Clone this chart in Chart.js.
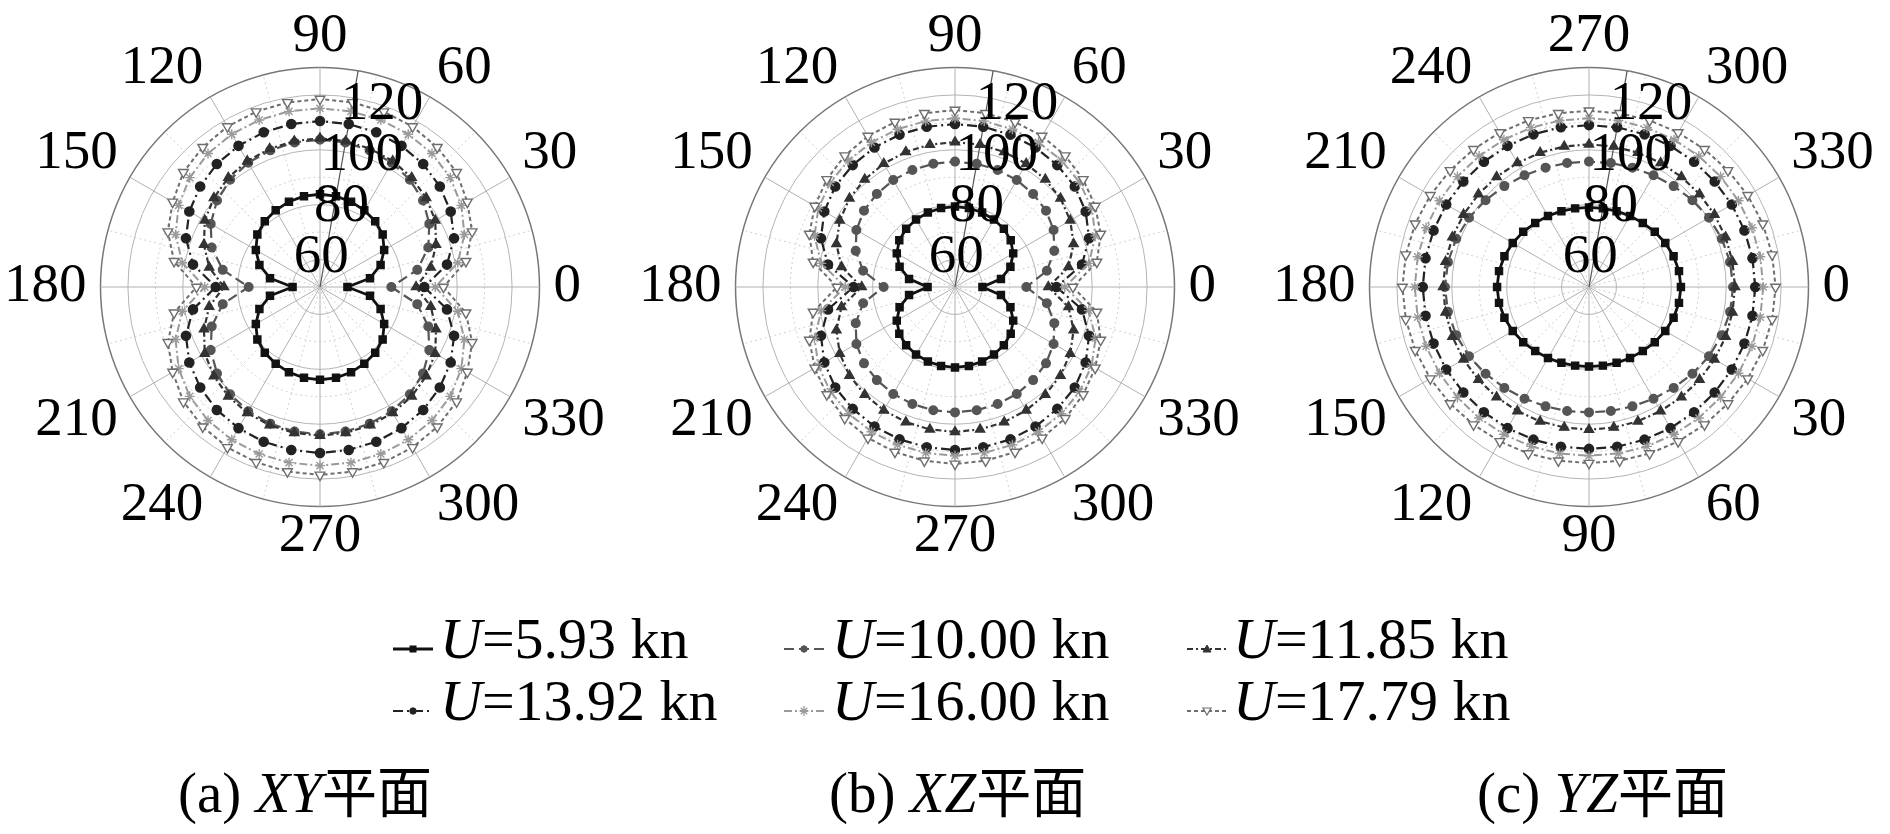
<!DOCTYPE html>
<html>
<head>
<meta charset="utf-8">
<script src="https://cdn.jsdelivr.net/npm/chart.js@4.4.0/dist/chart.umd.min.js"></script>
<style>
    html, body { margin: 0; padding: 0; background: #fff; }
    body { width: 1890px; height: 834px; position: relative; overflow: hidden; font-family: "Liberation Serif", "DejaVu Serif", serif; color: #000; }
    .plot { position: absolute; left: 0; top: 0; width: 634px; height: 634px; }
    .sample { position: absolute; width: 40px; height: 20px; }
    .ltext { position: absolute; font-size: 58px; line-height: 58px; white-space: nowrap; }
    .caption { position: absolute; font-size: 57px; line-height: 57px; white-space: nowrap; }
    .cjk { font-family: "Noto Sans CJK SC"; font-size: 55px; }
</style>
</head>
<body>
<div class="plot" id="plotA"><canvas id="chartA"></canvas></div>
<div class="plot" id="plotB"><canvas id="chartB"></canvas></div>
<div class="plot" id="plotC"><canvas id="chartC"></canvas></div>
<div id="legend"></div>
<div class="caption" style="left:178px; top:760px;">(a) <i>XY</i><span class="cjk">平面</span></div>
<div class="caption" style="left:829px; top:760px;">(b) <i>XZ</i><span class="cjk">平面</span></div>
<div class="caption" style="left:1477px; top:760px;">(c) <i>YZ</i><span class="cjk">平面</span></div>

<script>
const serif = '"Liberation Serif", "DejaVu Serif", serif';

// series names (speed U)
const speeds = ['5.93', '10.00', '11.85', '13.92', '16.00', '17.79'];

// radial tick labels and angle ticks
const radialTicks = [60, 80, 100, 120];
const angleStep = 5;          // label slots every 5 deg, data every 10 deg
const angleTickEvery = 30;

// values at 0,10,20,...,350 deg -- XY plane
const xy593  = [60, 68.5, 73.5, 77, 79.8, 81.3, 82.3, 83.1, 83.6, 83.8, 83.6, 83.1, 82.3, 81.3, 79.8, 77, 73.5, 68.5, 60, 68.5, 73.5, 77, 79.8, 81.3, 82.3, 83.1, 83.6, 83.8, 83.6, 83.1, 82.3, 81.3, 79.8, 77, 73.5, 68.5];
const xy1000 = [76, 86, 92, 96, 99, 101, 102.3, 103, 103.5, 103.7, 103.5, 103, 102.3, 101, 99, 96, 92, 86, 76, 86, 92, 96, 99, 101, 102.3, 103, 103.5, 103.7, 103.5, 103, 102.3, 101, 99, 96, 92, 86];
const xy1185 = [85, 91, 95, 98.5, 100.5, 102, 103, 103.6, 104, 104.2, 104, 103.6, 103, 102, 100.5, 98.5, 95, 91, 85, 91, 95, 98.5, 100.5, 102, 103, 103.6, 104, 104.2, 104, 103.6, 103, 102, 100.5, 98.5, 95, 91];
const xy1392 = [88, 97, 102, 105, 107, 108.5, 109.4, 110, 110.3, 110.5, 110.3, 110, 109.4, 108.5, 107, 105, 102, 97, 88, 97, 102, 105, 107, 108.5, 109.4, 110, 110.3, 110.5, 110.3, 110, 109.4, 108.5, 107, 105, 102, 97];
const xy1600 = [92, 101, 106, 109.5, 112, 113.5, 114.3, 114.8, 115, 115.1, 115, 114.8, 114.3, 113.5, 112, 109.5, 106, 101, 92, 101, 106, 109.5, 112, 113.5, 114.3, 114.8, 115, 115.1, 115, 114.8, 114.3, 113.5, 112, 109.5, 106, 101];
const xy1779 = [95, 104, 109, 112, 115, 116.5, 117.5, 118, 118.3, 118.5, 118.3, 118, 117.5, 116.5, 115, 112, 109, 104, 95, 104, 109, 112, 115, 116.5, 117.5, 118, 118.3, 118.5, 118.3, 118, 117.5, 116.5, 115, 112, 109, 104];

// XZ plane
const xz593  = [60, 67, 71.5, 74.5, 76.5, 77.7, 78.4, 78.9, 79.2, 79.3, 79.2, 78.9, 78.4, 77.7, 76.5, 74.5, 71.5, 67, 60, 67, 71.5, 74.5, 76.5, 77.7, 78.4, 78.9, 79.2, 79.3, 79.2, 78.9, 78.4, 77.7, 76.5, 74.5, 71.5, 67];
const xz1000 = [76, 84, 88.5, 91.5, 93.3, 94.3, 95, 95.4, 95.6, 95.7, 95.6, 95.4, 95, 94.3, 93.3, 91.5, 88.5, 84, 76, 84, 88.5, 91.5, 93.3, 94.3, 95, 95.4, 95.6, 95.7, 95.6, 95.4, 95, 94.3, 93.3, 91.5, 88.5, 84];
const xz1185 = [84, 92, 96, 98.5, 100.2, 101.2, 101.9, 102.4, 102.7, 102.8, 102.7, 102.4, 101.9, 101.2, 100.2, 98.5, 96, 92, 84, 92, 96, 98.5, 100.2, 101.2, 101.9, 102.4, 102.7, 102.8, 102.7, 102.4, 101.9, 101.2, 100.2, 98.5, 96, 92];
const xz1392 = [87, 97, 102, 105, 107, 108, 108.7, 109.1, 109.3, 109.4, 109.3, 109.1, 108.7, 108, 107, 105, 102, 97, 87, 97, 102, 105, 107, 108, 108.7, 109.1, 109.3, 109.4, 109.3, 109.1, 108.7, 108, 107, 105, 102, 97];
const xz1600 = [90, 99.5, 104.5, 107.5, 109.3, 110.3, 110.9, 111.2, 111.4, 111.5, 111.4, 111.2, 110.9, 110.3, 109.3, 107.5, 104.5, 99.5, 90, 99.5, 104.5, 107.5, 109.3, 110.3, 110.9, 111.2, 111.4, 111.5, 111.4, 111.2, 110.9, 110.3, 109.3, 107.5, 104.5, 99.5];
const xz1779 = [93, 102.5, 106.5, 109, 111, 112.5, 113.5, 114, 114.3, 114.5, 114.3, 114, 113.5, 112.5, 111, 109, 106.5, 102.5, 93, 102.5, 106.5, 109, 111, 112.5, 113.5, 114, 114.3, 114.5, 114.3, 114, 113.5, 112.5, 111, 109, 106.5, 102.5];

// YZ plane
const yz593  = [83.5, 83.3, 82.8, 82.1, 81.3, 80.5, 79.9, 79.4, 79.1, 79, 79.1, 79.4, 79.9, 80.5, 81.3, 82.1, 82.8, 83.3, 83.5, 83.3, 82.8, 82.1, 81.3, 80.5, 79.9, 79.4, 79.1, 79, 79.1, 79.4, 79.9, 80.5, 81.3, 82.1, 82.8, 83.3];
const yz1000 = [102.5, 102.2, 101.5, 100.5, 99.2, 98, 97, 96.3, 95.9, 95.7, 95.9, 96.3, 97, 98, 99.2, 100.5, 101.5, 102.2, 102.5, 102.2, 101.5, 100.5, 99.2, 98, 97, 96.3, 95.9, 95.7, 95.9, 96.3, 97, 98, 99.2, 100.5, 101.5, 102.2];
const yz1185 = [103.2, 103.1, 103, 102.8, 102.6, 102.4, 102.2, 102.1, 102, 102, 102, 102.1, 102.2, 102.4, 102.6, 102.8, 103, 103.1, 103.2, 103.1, 103, 102.8, 102.6, 102.4, 102.2, 102.1, 102, 102, 102, 102.1, 102.2, 102.4, 102.6, 102.8, 103, 103.1];
const yz1392 = [110.6, 110.5, 110.3, 110.1, 109.8, 109.6, 109.4, 109.2, 109.1, 109, 109.1, 109.2, 109.4, 109.6, 109.8, 110.1, 110.3, 110.5, 110.6, 110.5, 110.3, 110.1, 109.8, 109.6, 109.4, 109.2, 109.1, 109, 109.1, 109.2, 109.4, 109.6, 109.8, 110.1, 110.3, 110.5];
const yz1600 = [113.5, 113.4, 113.2, 112.9, 112.6, 112.3, 112, 111.8, 111.6, 111.5, 111.6, 111.8, 112, 112.3, 112.6, 112.9, 113.2, 113.4, 113.5, 113.4, 113.2, 112.9, 112.6, 112.3, 112, 111.8, 111.6, 111.5, 111.6, 111.8, 112, 112.3, 112.6, 112.9, 113.2, 113.4];
const yz1779 = [118, 117.8, 117.4, 116.8, 116.1, 115.5, 115, 114.6, 114.3, 114.2, 114.3, 114.6, 115, 115.5, 116.1, 116.8, 117.4, 117.8, 118, 117.8, 117.4, 116.8, 116.1, 115.5, 115, 114.6, 114.3, 114.2, 114.3, 114.6, 115, 115.5, 116.1, 116.8, 117.4, 117.8];

// styles for each series
const lineColors   = ['#111111', '#555555', '#333333', '#222222', '#9a9a9a', '#6e6e6e'];
const markerFills  = ['#111111', '#555555', '#333333', '#222222', '#9a9a9a', '#ffffff'];
const lineWidths   = [2.8, 2.2, 2.2, 2.2, 2, 2];
const lineDashes   = [[], [10, 5], [6, 3, 2, 3], [10, 4, 2, 4], [8, 3, 2, 3], [4, 3]];
const markers      = ['rect', 'circle', 'triangle', 'circle', 'star', 'triangle'];
const markerTurns  = [0, 0, 0, 0, 0, 180];
const markerSizes  = [5, 4.3, 5.3, 4.6, 5, 5.6];

// layout
const plotRadius = 220;
const plotCenters = [[320, 287], [955, 287], [1589, 287]];
const legendSampleX = [393, 784, 1187];
const legendTextX = [440, 832, 1233];
const legendRowY = [610, 672];

// angle slots: (a),(b) counter-clockwise from the right, (c) clockwise from the right
const slotsCCW = Array.from({ length: 360 / angleStep }, (_, i) => (360 - i * angleStep) % 360);
const slotsCW = Array.from({ length: 360 / angleStep }, (_, i) => i * angleStep);

// radial tick labels + the thin reference ray, drawn through the r scale
const rLabelPlugin = {
    id: 'rLabels',
    beforeDatasetsDraw(chart) {
        const r = chart.scales.r;
        const ctx = chart.ctx;
        const a = 80 * Math.PI / 180;
        const len = r.getDistanceFromCenterForValue(r.max);
        ctx.save();
        ctx.strokeStyle = '#555';
        ctx.lineWidth = 1.2;
        ctx.beginPath();
        ctx.moveTo(r.xCenter, r.yCenter);
        ctx.lineTo(r.xCenter + len * Math.cos(a), r.yCenter - len * Math.sin(a));
        ctx.stroke();
        ctx.restore();
    },
    afterDatasetsDraw(chart) {
        const r = chart.scales.r;
        const ctx = chart.ctx;
        ctx.save();
        ctx.font = '55px ' + serif;
        ctx.fillStyle = '#000';
        ctx.textAlign = 'center';
        ctx.textBaseline = 'middle';
        radialTicks.forEach(v => {
            const d = r.getDistanceFromCenterForValue(v);
            ctx.fillText(String(v), r.xCenter + d * 0.37 - 9, r.yCenter - d * 0.93 - 4);
        });
        ctx.restore();
    }
};

function makePlot(canvasId, boxId, center, slots, series) {
    const box = document.getElementById(boxId);

    const datasets = series.map((vals, s) => ({
        label: 'U=' + speeds[s] + ' kn',
        data: slots.map(a => (a % 10 === 0 ? vals[a / 10] : null)),
        borderColor: lineColors[s],
        backgroundColor: markerFills[s],
        borderWidth: lineWidths[s],
        borderDash: lineDashes[s],
        pointStyle: markers[s],
        pointRotation: markerTurns[s],
        pointRadius: markerSizes[s],
        pointBorderColor: lineColors[s],
        pointBackgroundColor: markerFills[s],
        pointBorderWidth: 1.4,
        fill: false,
        spanGaps: true,
        tension: 0
    }));

    const chart = new Chart(document.getElementById(canvasId), {
        type: 'radar',
        data: { labels: slots, datasets: datasets.reverse() },
        plugins: [rLabelPlugin],
        options: {
            responsive: true,
            maintainAspectRatio: false,
            animation: false,
            events: [],
            plugins: { legend: { display: false }, tooltip: { enabled: false } },
            scales: {
                r: {
                    min: 50,
                    max: 130,
                    startAngle: 90,
                    ticks: { display: false, stepSize: 10 },
                    grid: {
                        circular: true,
                        lineWidth: ctx => (ctx.tick.value === 130 ? 1.5 : 1),
                        color: ctx => {
                            const v = ctx.tick.value;
                            if (v === 130) return '#777';
                            return v % 20 === 0 ? '#b4b4b4' : '#cdcdcd';
                        }
                    },
                    border: {
                        dash: ctx => (ctx.tick && ctx.tick.value % 20 !== 0 && ctx.tick.value !== 130 ? [2, 3] : [])
                    },
                    angleLines: {
                        color: ctx => (ctx.index % 6 === 0 ? '#b0b0b0' : ctx.index % 3 === 0 ? '#d0d0d0' : 'rgba(0,0,0,0)'),
                        lineWidth: ctx => (ctx.index % 3 === 0 ? 1 : 0),
                        borderDash: ctx => (ctx.index % 6 === 0 ? [] : [2, 3])
                    },
                    pointLabels: {
                        display: true,
                        padding: 14,
                        color: '#000',
                        font: { family: serif, size: 55, lineHeight: 0.6 },
                        callback: label => (label % angleTickEvery === 0 ? String(label) : '')
                    }
                }
            }
        }
    });

    // grow the box until the outer ring has the wanted radius, then move it onto the centre
    const size = 634 + Math.round(2 * (plotRadius - chart.scales.r.drawingArea));
    box.style.width = size + 'px';
    box.style.height = size + 'px';
    chart.resize();
    box.style.left = (center[0] - chart.scales.r.xCenter) + 'px';
    box.style.top = (center[1] - chart.scales.r.yCenter) + 'px';
    return chart;
}

makePlot('chartA', 'plotA', plotCenters[0], slotsCCW, [xy593, xy1000, xy1185, xy1392, xy1600, xy1779]);
makePlot('chartB', 'plotB', plotCenters[1], slotsCCW, [xz593, xz1000, xz1185, xz1392, xz1600, xz1779]);
makePlot('chartC', 'plotC', plotCenters[2], slotsCW, [yz593, yz1000, yz1185, yz1392, yz1600, yz1779]);

// legend: 3 columns x 2 rows
function markerSvg(s) {
    const c = lineColors[s], f = markerFills[s];
    switch (markers[s]) {
        case 'rect': return `<rect x="17" y="7" width="6" height="6" fill="${f}" stroke="${c}"/>`;
        case 'circle': return `<circle cx="20" cy="10" r="3.2" fill="${f}" stroke="${c}"/>`;
        case 'star': return `<path d="M20 5V15M15.5 10H24.5M16.8 6.8L23.2 13.2M23.2 6.8L16.8 13.2" stroke="${c}" stroke-width="1.3"/>`;
        default:
            return markerTurns[s] === 180
                ? `<path d="M16 7H24L20 14Z" fill="${f}" stroke="${c}" stroke-width="1.2"/>`
                : `<path d="M16 13H24L20 6Z" fill="${f}" stroke="${c}"/>`;
    }
}

const legend = document.getElementById('legend');
speeds.forEach((sp, s) => {
    const col = s % 3, row = Math.floor(s / 3);
    const svg = document.createElementNS('http://www.w3.org/2000/svg', 'svg');
    svg.setAttribute('class', 'sample');
    svg.setAttribute('viewBox', '0 0 40 20');
    svg.style.left = legendSampleX[col] + 'px';
    svg.style.top = (legendRowY[row] + 29) + 'px';
    svg.innerHTML = `<line x1="0" y1="10" x2="40" y2="10" stroke="${lineColors[s]}" stroke-width="${lineWidths[s]}" stroke-dasharray="${lineDashes[s].join(' ')}"/>` + markerSvg(s);
    legend.appendChild(svg);

    const t = document.createElement('div');
    t.className = 'ltext';
    t.style.left = legendTextX[col] + 'px';
    t.style.top = legendRowY[row] + 'px';
    t.innerHTML = `<i>U</i>=${sp} kn`;
    legend.appendChild(t);
});
</script>
</body>
</html>
